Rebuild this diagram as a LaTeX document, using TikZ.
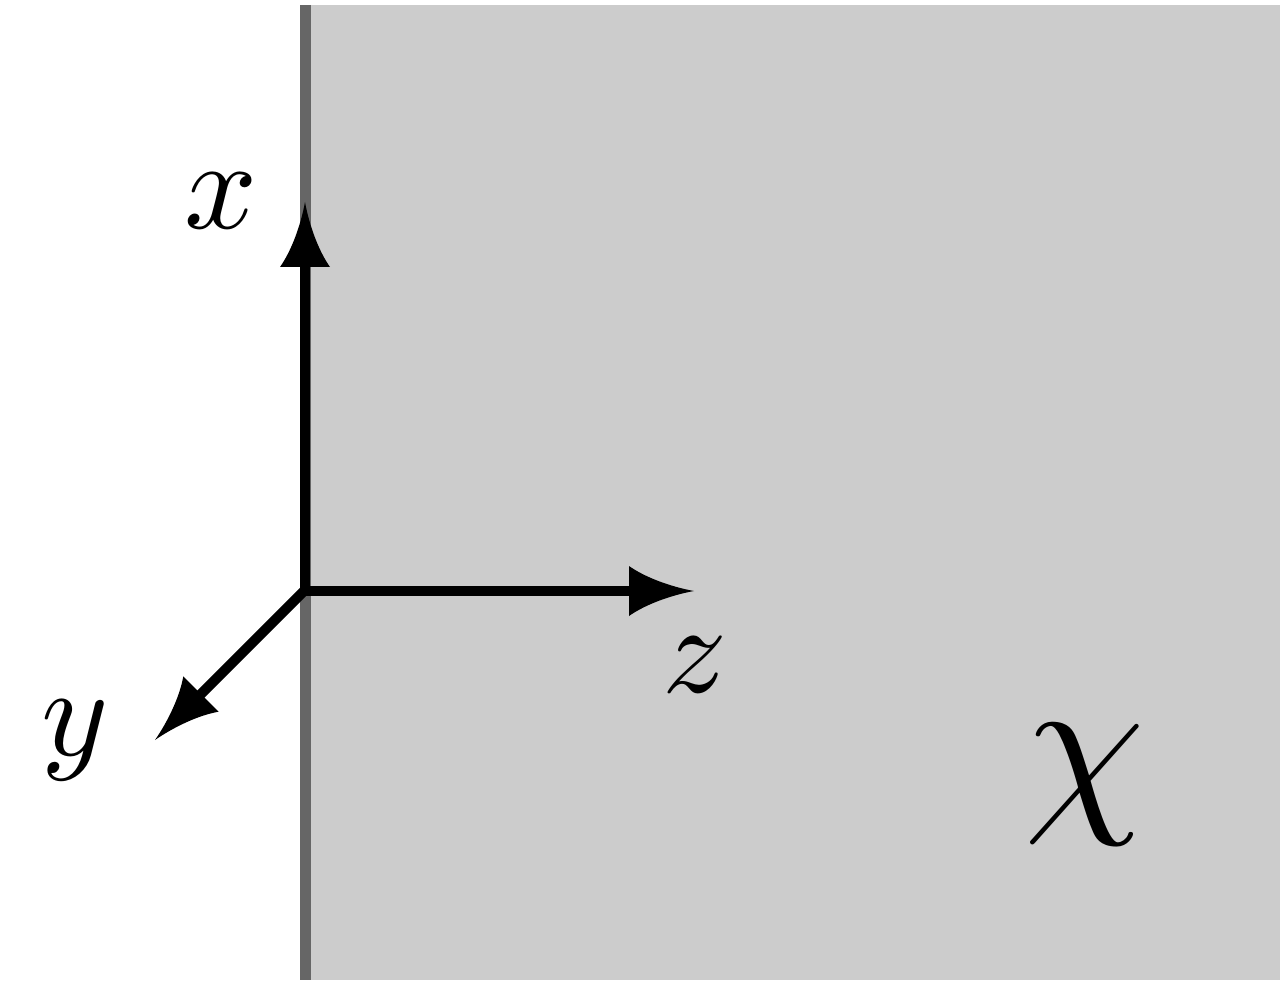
\documentclass[tikz,border=0pt]{standalone}
\begin{document}
\begin{tikzpicture}[x=1pt,y=-1pt,
  axisline/.style={line width=10pt,black},
  arrowtip/.style={fill=black,draw=none},
  axislabel/.style={inner sep=0pt,scale=12.8}]
\useasboundingbox (0,0) rectangle (1280,987);
% half-space
\fill[fill={rgb,255:red,204;green,204;blue,204}] (305,5) rectangle (1280,980);
\draw[line width=11pt,draw={rgb,255:red,102;green,102;blue,102}] (305,5) -- (305,980);
% coordinates
\coordinate (O) at (305,590);
\coordinate (Xtip) at (305,202);
\coordinate (Ztip) at (694,591);
\coordinate (Ytip) at (155,740);
\coordinate (Xend) at (305,262);
\coordinate (Zend) at (634,590.5);
\coordinate (Yend) at (199,696);
% axes
\draw[axisline] (Xend) -- (305,595);
\draw[axisline] (300,590.5) -- (Zend);
\draw[axisline] (O) -- (Yend);
% arrowheads
\foreach \t/\a in {Xtip/90,Ztip/0,Ytip/225}{
  \fill[arrowtip,shift={(\t)},rotate=\a]
    (0,0) .. controls (-22,-4) and (-48,-13) .. (-65,-25)
    -- (-65,25) .. controls (-48,13) and (-22,4) .. (0,0) -- cycle;
}
% labels
\node[axislabel] (lx) at (221,201) {$x$};
\node[axislabel] (lz) at (695,665) {$z$};
\node[axislabel] (ly) at (75,740) {$y$};
\node[inner sep=0pt,scale=19.3] (lchi) at (1085,785) {$\chi$};
\end{tikzpicture}
\end{document}
